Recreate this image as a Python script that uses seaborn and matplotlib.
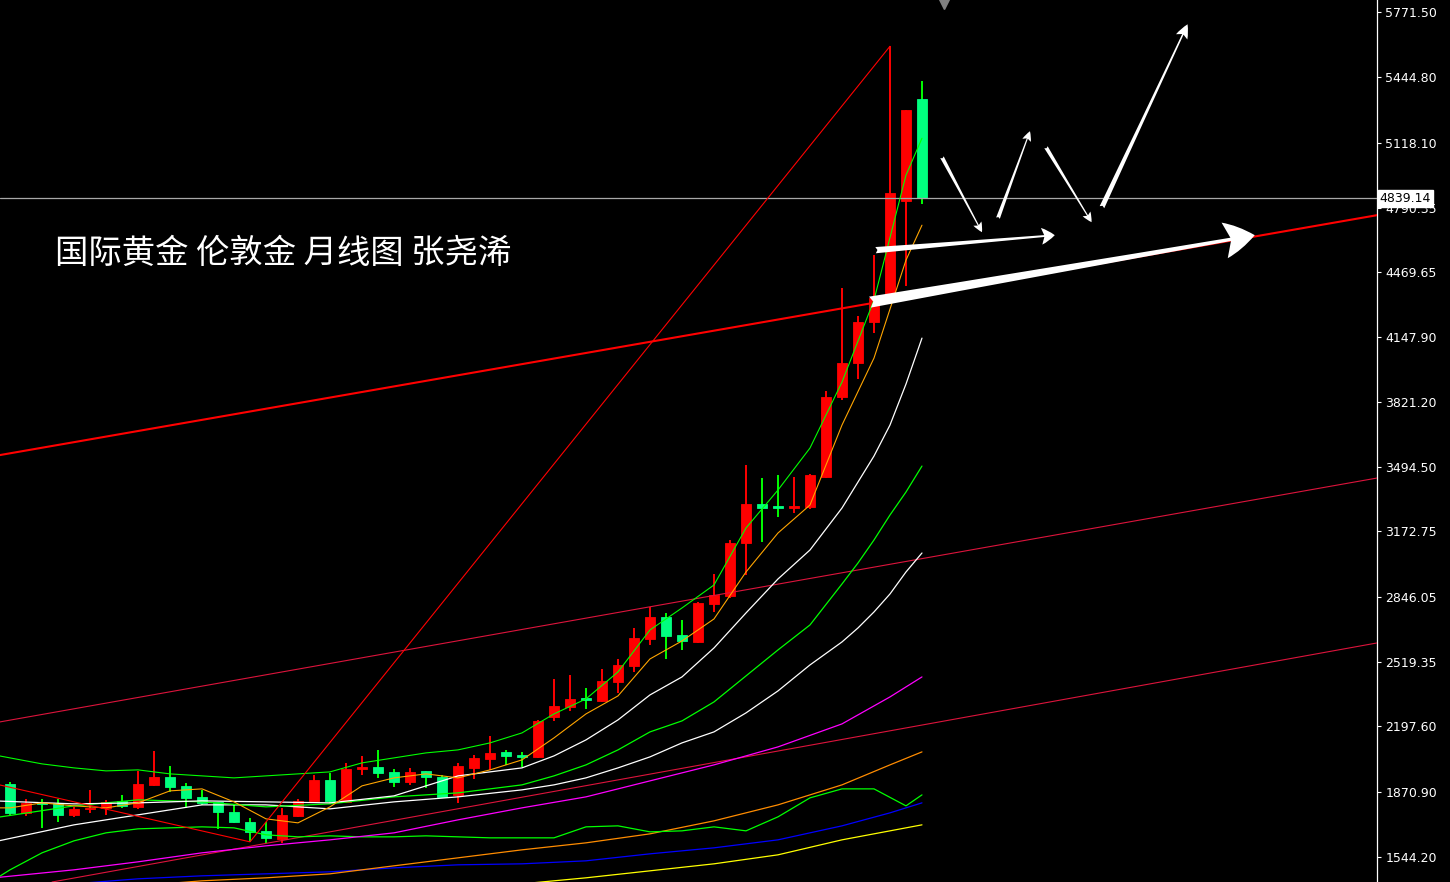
import numpy as np
import matplotlib
matplotlib.use("Agg")
import matplotlib.pyplot as plt
import matplotlib.transforms as mtransforms
import seaborn as sns

# ---------------- candle data (monthly, Jun 2021 .. Mar 2026) ----------------
opens = [1910, 1765, 1815, 1815, 1755, 1785, 1790, 1825, 1795, 1905, 1945, 1900, 1845, 1820, 1770,
         1720, 1675, 1635, 1750, 1825, 1930, 1820, 1985, 1995, 1970, 1920, 1975, 1945, 1855, 1990,
         2035, 2070, 2055, 2045, 2245, 2295, 2340, 2325, 2420, 2500, 2635, 2745, 2655, 2620, 2810,
         2850, 3115, 3310, 3300, 3290, 3295, 3445, 3845, 4015, 4220, 4335, 4825, 5335]
highs = [1920, 1835, 1835, 1835, 1795, 1880, 1830, 1855, 1975, 2075, 2000, 1915, 1880, 1820, 1810,
         1740, 1720, 1790, 1835, 1955, 1965, 2015, 2050, 2080, 1985, 1990, 1975, 1955, 2015, 2055,
         2150, 2080, 2070, 2230, 2435, 2455, 2390, 2485, 2535, 2690, 2795, 2765, 2730, 2820, 2960,
         3130, 3505, 3440, 3455, 3445, 3460, 3875, 4390, 4250, 4555, 5600, 5280, 5425]
lows = [1755, 1750, 1690, 1720, 1745, 1765, 1755, 1790, 1785, 1900, 1870, 1790, 1805, 1685, 1715,
        1620, 1615, 1615, 1745, 1825, 1815, 1815, 1955, 1940, 1895, 1905, 1890, 1840, 1815, 1935,
        1980, 2005, 1995, 2040, 2225, 2275, 2285, 2320, 2365, 2470, 2605, 2535, 2580, 2615, 2770,
        2840, 2955, 3120, 3245, 3265, 3285, 3440, 3830, 3935, 4165, 4330, 4400, 4810]
closes = [1765, 1815, 1810, 1755, 1785, 1790, 1820, 1800, 1910, 1945, 1895, 1840, 1815, 1770, 1720,
          1670, 1640, 1755, 1825, 1930, 1825, 1985, 1995, 1965, 1920, 1970, 1945, 1845, 2000, 2040,
          2065, 2050, 2045, 2225, 2300, 2335, 2330, 2425, 2505, 2640, 2745, 2650, 2625, 2815, 2855,
          3115, 3310, 3290, 3290, 3300, 3455, 3845, 4015, 4220, 4340, 4865, 5280, 4839.14]
current_price = 4839.14

# ---------------- indicator lines (sampled at bar indices) ----------------
fast_idx = [-1, 0] + list(range(2, 57, 2)) + [57]
lime_fast = [2055, 2040, 2010, 1990, 1975, 1980, 1960, 1950, 1940, 1950, 1960, 1970, 2015, 2040, 2065,
             2080, 2115, 2165, 2260, 2335, 2470, 2680, 2790, 2905, 3190, 3380, 3590, 3920, 4330, 4955, 5140]
orange_fast = [1790, 1790, 1815, 1800, 1790, 1815, 1875, 1885, 1820, 1735, 1715, 1795, 1900, 1940, 1960,
               1940, 1980, 2030, 2140, 2260, 2350, 2535, 2625, 2735, 2970, 3165, 3305, 3705, 4040, 4530, 4705]
lime_low = [1430, 1480, 1565, 1625, 1665, 1685, 1690, 1695, 1690, 1655, 1645, 1650, 1645, 1645, 1650,
            1645, 1640, 1640, 1640, 1695, 1700, 1670, 1675, 1695, 1675, 1745, 1840, 1885, 1885, 1800, 1855]

curve_idx = [-1, 4, 8, 12, 16, 20, 24, 28, 32, 34, 36, 38, 40, 42, 44, 46, 48, 50, 52, 53, 54, 55, 56, 57]
white_1 = [1825, 1810, 1815, 1825, 1820, 1815, 1850, 1950, 1990, 2050, 2130, 2230, 2355, 2445, 2590,
           2765, 2935, 3080, 3290, 3420, 3550, 3705, 3910, 4140]
lime_mid = [1740, 1800, 1830, 1820, 1795, 1810, 1845, 1865, 1905, 1950, 2005, 2080, 2170, 2225, 2320,
            2450, 2580, 2705, 2910, 3015, 3130, 3255, 3370, 3500]
white_2 = [1620, 1705, 1755, 1805, 1805, 1785, 1820, 1845, 1880, 1905, 1940, 1990, 2045, 2115, 2170,
           2265, 2375, 2505, 2620, 2690, 2770, 2860, 2970, 3065]

slow_idx = [-1, 4, 8, 12, 16, 20, 24, 28, 32, 36, 40, 44, 48, 52, 55, 57]
magenta = [1440, 1480, 1520, 1565, 1600, 1630, 1665, 1730, 1790, 1845, 1925, 2005, 2095, 2210, 2345, 2445]
orange_slow = [1345, 1375, 1400, 1425, 1440, 1460, 1500, 1540, 1580, 1615, 1660, 1725, 1805, 1905, 2005, 2070]
blue_line = [1385, 1410, 1435, 1450, 1460, 1470, 1490, 1505, 1510, 1525, 1560, 1590, 1630, 1700, 1765, 1815]
yellow_line = [1105, 1155, 1195, 1235, 1275, 1315, 1350, 1385, 1410, 1440, 1475, 1510, 1555, 1630, 1675, 1705]

# zigzag pivots
zigzag_idx = [-10, 15, 55]
zigzag_val = [2075, 1620, 5600]

# drawn trend lines: two anchor points each (bar index, price)
trend_thick = [(-0.625, 3555), (85.44, 4755)]
trend_mid = [(-0.625, 2220), (85.44, 3440)]
trend_low = [(2.69, 1420), (85.44, 2615)]

# forecast arrows: tail -> tip (bar index, price)
arrow_tails = [(58.25, 5045), (61.75, 4740), (64.75, 5095), (68.25, 4795), (54.1, 4580), (53.75, 4320)]
arrow_tips = [(60.75, 4670), (63.75, 5175), (67.6, 4720), (73.6, 5710), (65.3, 4655), (77.8, 4655)]

y_ticks = [5771.50, 5444.80, 5118.10, 4790.35, 4469.65, 4147.90, 3821.20, 3494.50, 3172.75,
           2846.05, 2519.35, 2197.60, 1870.90, 1544.20]
title_text = "国际黄金 伦敦金 月线图 张尧浠"

# ---------------- style ----------------
sns.set_theme(style="dark", rc={"axes.facecolor": "black", "figure.facecolor": "black",
                                "axes.grid": False})
plt.rcParams['font.family'] = ['DejaVu Sans']

fig = plt.figure(figsize=(14.5, 8.82), dpi=100)
ax = fig.add_axes([0, 0, 1377 / 1450, 1])
ax.set_facecolor("black")

o = np.array(opens, float)
h = np.array(highs, float)
l = np.array(lows, float)
c = np.array(closes, float)
idx = np.arange(len(o))
up = c >= o
body_col = np.where(up, "#FF0000", "#00FF7F")
wick_col = np.where(up, "#FF0000", "#00FF00")

ax.vlines(idx, l, h, colors=wick_col, lw=1.4, zorder=2)
ax.bar(idx, np.abs(c - o), bottom=np.minimum(o, c), width=0.68, color=body_col,
       edgecolor=body_col, linewidth=0.6, zorder=3)

# trend lines
ax.axline(trend_thick[0], trend_thick[1], color="#FF0000", lw=1.5, zorder=4)
ax.axline(trend_mid[0], trend_mid[1], color="#DC143C", lw=0.8, zorder=4)
ax.axline(trend_low[0], trend_low[1], color="#DC143C", lw=0.8, zorder=4)

# indicator lines
def line(xs, ys, col, lw=0.9):
    sns.lineplot(x=xs, y=ys, color=col, lw=lw, ax=ax, estimator=None, zorder=5)

line(slow_idx, yellow_line, "#FFFF00")
line(slow_idx, blue_line, "#0000FF")
line(slow_idx, orange_slow, "#FF8C00")
line(fast_idx, lime_low, "#00FF00")
line(slow_idx, magenta, "#FF00FF")
line(curve_idx, white_2, "#FFFFFF")
line(curve_idx, lime_mid, "#00FF00")
line(curve_idx, white_1, "#FFFFFF")
line(fast_idx, orange_fast, "#FFA500", 0.8)
line(fast_idx, lime_fast, "#00FF00", 0.8)
line(zigzag_idx, zigzag_val, "#FF0000", 0.8)

# current price line
ax.axhline(current_price, color="#A8A8A8", lw=0.9, zorder=4)

# forecast arrows
arrow_specs = [(7, 6.5, 2.8), (7, 6.5, 2.8), (7, 6.5, 2.8), (10, 9, 3.6), (9.5, 12, 4.5), (22, 26, 8)]
for (tx, ty), (hx, hy), (hl, hw, tw) in zip(arrow_tails, arrow_tips, arrow_specs):
    ax.annotate("", xy=(hx, hy), xytext=(tx, ty),
                arrowprops=dict(arrowstyle=f"fancy,head_length={hl},head_width={hw},tail_width={tw}",
                                fc="white", ec="none", mutation_scale=1, shrinkA=0, shrinkB=0),
                zorder=6)

# title text
ax.text(0.04, 0.713, title_text, transform=ax.transAxes, color="white", fontsize=24,
        family=["Noto Sans CJK SC", "DejaVu Sans"], va="center", ha="left", zorder=7)

# axes
ax.set_xlim(-0.625, 85.44)
ax.set_ylim(1419.1, 5831.5)
ax.set_xticks([])
ax.yaxis.tick_right()
ax.set_yticks(y_ticks)
ax.set_yticklabels([f"{v:.2f}" for v in y_ticks])
ax.tick_params(axis="y", colors="white", labelcolor="white", labelsize=9, length=3, width=0.8,
               pad=3, right=True, left=False)
for s in ["left", "top", "bottom"]:
    ax.spines[s].set_visible(False)
ax.spines["right"].set_color("white")
ax.spines["right"].set_linewidth(0.9)
ax.set_xlabel("")
ax.set_ylabel("")

# current price label box
blend = mtransforms.blended_transform_factory(ax.transAxes, ax.transData)
ax.annotate(f"{current_price:.2f}", xy=(1, current_price), xycoords=blend, xytext=(2, 0),
            textcoords="offset points", va="center", ha="left", color="black", fontsize=9,
            bbox=dict(boxstyle="square,pad=0.18", fc="white", ec="white"),
            annotation_clip=False, zorder=10)

# chart shift marker at top
blend2 = mtransforms.blended_transform_factory(ax.transData, ax.transAxes)
ax.plot([58.4], [1 - 3 / 882], marker="v", ms=8, color="#808080", transform=blend2,
        clip_on=False, zorder=8)

fig.savefig("out.png", dpi=100, facecolor="black")
